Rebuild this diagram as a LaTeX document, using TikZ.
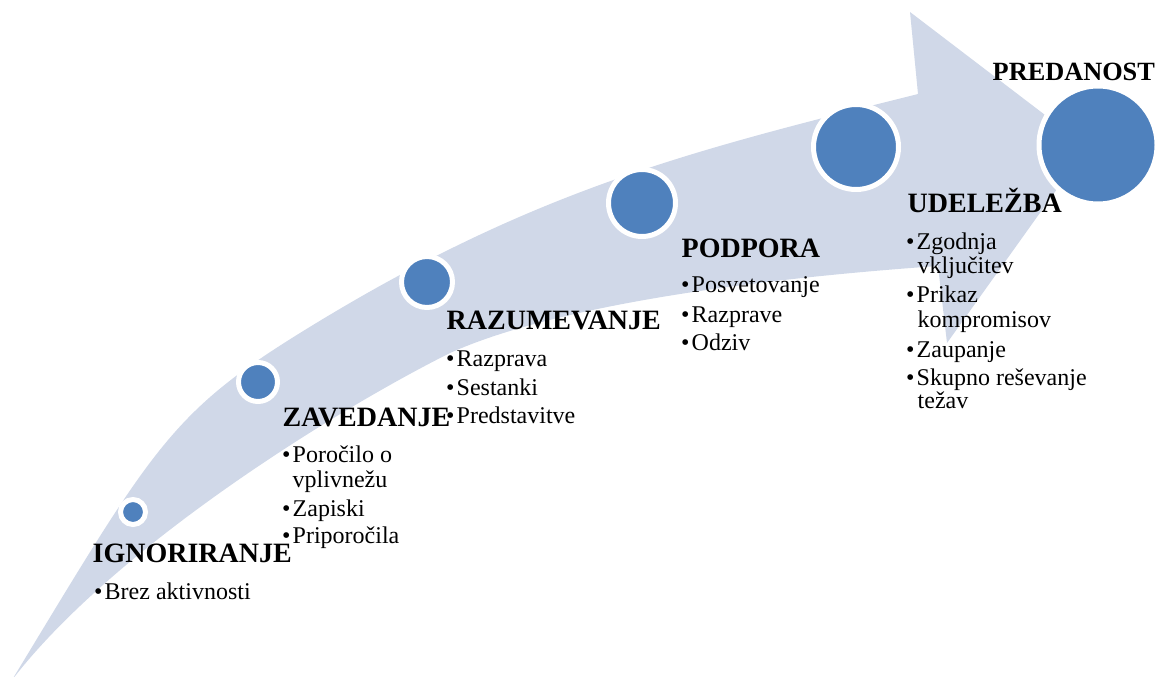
\documentclass[tikz,border=0pt]{standalone}
\usepackage{fontspec}
\setmainfont{Liberation Serif}
\definecolor{bandfill}{RGB}{208,216,232}
\definecolor{dotblue}{RGB}{79,129,189}
\newcommand\bul{\makebox[10.5pt][l]{\textbullet}}
\begin{document}
\begin{tikzpicture}[x=1pt,y=-1pt,
  dot/.style={circle, fill=dotblue, draw=white, line width=5pt, inner sep=0pt, outer sep=0pt},
  head/.style={anchor=base west, inner sep=0pt, font=\fontsize{28}{30}\selectfont\bfseries},
  item/.style={anchor=base west, inner sep=0pt, font=\fontsize{24}{28}\selectfont}]
\useasboundingbox (0,0) rectangle (1157,677);

% curved arrow band
\fill[bandfill]
  (12,680) .. controls (152,449) and (170,413.6) .. (300,333)
  .. controls (530,190.4) and (688,151.5) .. (918,94)
  -- (910,12) -- (1087,147) -- (947,343) -- (938,266)
  .. controls (738,280) and (550,308) .. (450,353)
  .. controls (330,413) and (112,550) .. (12,680)
  -- cycle;

% stage markers
\node[dot, minimum size=25pt]  (c1) at (133,512) {};
\node[dot, minimum size=39pt]  (c2) at (258,382) {};
\node[dot, minimum size=51pt]  (c3) at (427,282) {};
\node[dot, minimum size=67pt]  (c4) at (642,203) {};
\node[dot, minimum size=85pt]  (c5) at (856,147) {};
\node[dot, minimum size=118pt] (c6) at (1098,145) {};

% stage 1
\node[head] (h1) at (92.5,562) {IGNORIRANJE};
\node[item] (i11) at (94,599) {\bul Brez aktivnosti};

% stage 2
\node[head] (h2) at (282.5,426) {ZAVEDANJE};
\node[item] (i21) at (282,462) {\bul Poročilo o};
\node[item] (i21b) at (292.5,487) {vplivnežu};
\node[item] (i22) at (282,516) {\bul Zapiski};
\node[item] (i23) at (282,543) {\bul Priporočila};

% stage 3
\node[head] (h3) at (446.5,329) {RAZUMEVANJE};
\node[item] (i31) at (446,366) {\bul Razprava};
\node[item] (i32) at (446,395) {\bul Sestanki};
\node[item] (i33) at (446,423) {\bul Predstavitve};

% stage 4
\node[head] (h4) at (681.5,257) {PODPORA};
\node[item] (i41) at (681,292) {\bul Posvetovanje};
\node[item] (i42) at (681,322) {\bul Razprave};
\node[item] (i43) at (681,350) {\bul Odziv};

% stage 5
\node[head] (h5) at (907.5,212) {UDELEŽBA};
\node[item] (i51) at (906,249) {\bul Zgodnja};
\node[item] (i51b) at (917.5,273) {vključitev};
\node[item] (i52) at (906,302) {\bul Prikaz};
\node[item] (i52b) at (917.5,327) {kompromisov};
\node[item] (i53) at (906,357) {\bul Zaupanje};
\node[item] (i54) at (906,385) {\bul Skupno reševanje};
\node[item] (i54b) at (917.5,408) {težav};

% stage 6
\node[head, font=\fontsize{26.3}{30}\selectfont\bfseries] (h6) at (992.5,81) {PREDANOST};
\end{tikzpicture}
\end{document}
